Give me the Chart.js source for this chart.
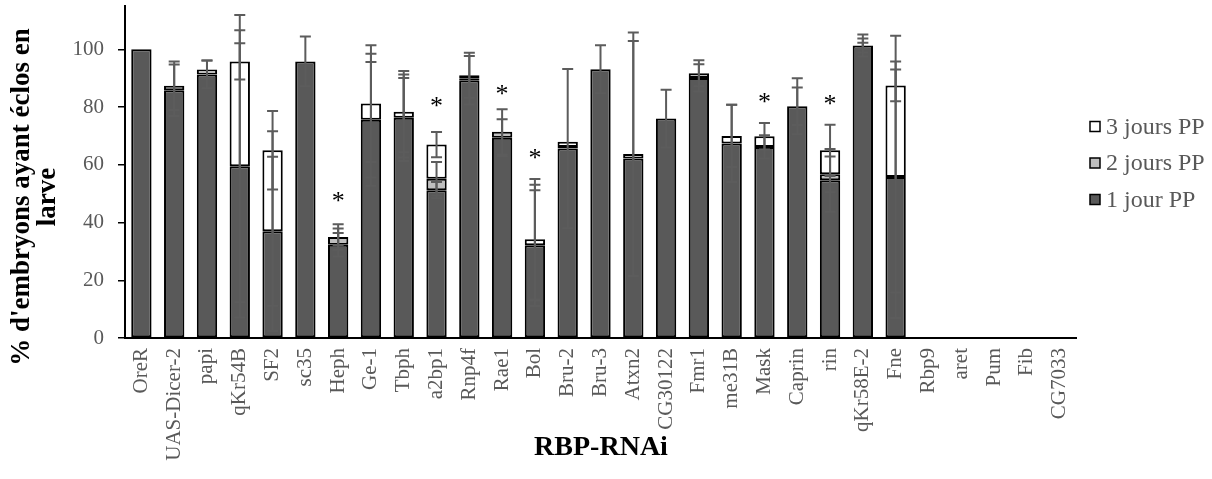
<!DOCTYPE html>
<html>
<head>
<meta charset="utf-8">
<script src="https://cdn.jsdelivr.net/npm/chart.js@4.4.1/dist/chart.umd.min.js"></script>
<style>
  html, body { margin: 0; padding: 0; background: #fff; }
  #wrap { width: 1212px; height: 479px; }
</style>
</head>
<body>
<div id="wrap"><canvas id="hatchChart" width="1212" height="479"></canvas></div>
<script>
const categories = ['OreR', 'UAS-Dicer-2', 'papi', 'qKr54B', 'SF2', 'sc35', 'Heph', 'Ge-1', 'Tbph', 'a2bp1',
  'Rnp4f', 'Rae1', 'Bol', 'Bru-2', 'Bru-3', 'Atxn2', 'CG30122', 'Fmr1', 'me31B', 'Mask',
  'Caprin', 'rin', 'qKr58E-2', 'Fne', 'Rbp9', 'aret', 'Pum', 'Fib', 'CG7033'];

// % hatched, stacked: 1 jour / 2 jours / 3 jours post-ponte
const jour1 = [100, 85.8, 91.3, 59.5, 37.0, 95.8, 32.3, 75.6, 76.3, 51.2,
  89.3, 69.4, 32.1, 65.6, 93.1, 62.2, 76.0, 90.1, 67.4, 66.2,
  80.3, 54.6, 101.3, 55.8, null, null, null, null, null];
const jour2 = [0, 0, 0, 0, 0, 0, 2.7, 0, 0, 4.0,
  0.7, 2.0, 0, 0.6, 0, 0, 0, 1.6, 0, 0,
  0, 2.1, 0, 0, null, null, null, null, null];
const jour3 = [0, 1.6, 1.7, 36.3, 28.0, 0, 0, 5.6, 2.1, 11.8,
  1.0, 0, 2.1, 1.8, 0, 1.5, 0, 0, 2.6, 3.7,
  0, 8.3, 0, 31.7, null, null, null, null, null];

// error bars (+/-) for each series, drawn at the top of its segment
const err1 = [0, 8.9, 4.8, 47.1, 34.6, 8.6, 4.1, 20.0, 13.8, 2.8,
  8.4, 6.4, 19.1, 27.6, 8.3, 40.7, 10.0, 4.7, 13.4, 4.0,
  6.5, 10.9, 1.0, 48.9, null, null, null, null, null];
const err2 = [0, 0, 0, 52.4, 25.8, 0, 2.9, 22.9, 15.0, 5.8,
  0, 7.8, 21.0, 0, 0, 0, 0, 4.5, 0, 0,
  9.7, 6.2, 2.4, 40.0, null, null, null, null, null];
const err3 = [0, 8.4, 3.1, 6.3, 13.6, 0, 4.4, 20.2, 14.1, 4.35,
  7.8, 0, 20.9, 0, 0, 42.1, 0, 0, 10.8, 4.6,
  0, 8.9, 3.8, 5.5, null, null, null, null, null];

// significance stars (height on the y axis)
const stars = [null, null, null, null, null, null, 48.8, null, null, 81.7,
  null, 85.8, 63.9, null, null, null, null, null, null, 83.3,
  null, 82.3, null, null, null, null, null, null, null];

const yTicks = [0, 20, 40, 60, 80, 100];

const seriesNames = ['1 jour PP', '2 jours PP', '3 jours PP'];
const seriesColors = ['#595959', '#bfbfbf', '#ffffff'];

const SERIF = '"Liberation Serif", "Times New Roman", serif';
const GREY = '#595959';

const overlay = {
  id: 'overlay',
  afterDatasetsDraw(chart) {
    const ctx = chart.ctx;
    const xs = chart.scales.x, ys = chart.scales.y;
    const series = [jour1, jour2, jour3];
    const errs = [err1, err2, err3];
    ctx.save();
    ctx.strokeStyle = '#5c5c5c';
    ctx.lineWidth = 2;
    categories.forEach((c, i) => {
      const px = xs.getPixelForValue(i);
      let base = 0;
      series.forEach((s, k) => {
        base += s[i] || 0;
        const e = errs[k][i];
        if (!e) return;
        const top = ys.getPixelForValue(base + e);
        const bot = ys.getPixelForValue(base - e);
        ctx.beginPath();
        ctx.moveTo(px, bot); ctx.lineTo(px, top);
        ctx.moveTo(px - 5.5, top); ctx.lineTo(px + 5.5, top);
        ctx.moveTo(px - 5.5, bot); ctx.lineTo(px + 5.5, bot);
        ctx.stroke();
      });
      if (stars[i] != null) {
        ctx.fillStyle = '#000';
        ctx.font = '26px ' + SERIF;
        ctx.textAlign = 'center';
        ctx.textBaseline = 'alphabetic';
        ctx.fillText('*', px, ys.getPixelForValue(stars[i]) + 12);
      }
    });
    ctx.restore();
  },
  afterDraw(chart) {
    const ctx = chart.ctx;
    ctx.save();
    // axis titles
    ctx.fillStyle = '#000';
    ctx.textAlign = 'center';
    ctx.textBaseline = 'middle';
    ctx.font = 'bold 28px ' + SERIF;
    ctx.fillText('RBP-RNAi', 601, 448);
    ctx.font = 'bold 27px ' + SERIF;
    ctx.save();
    ctx.translate(22, 197);
    ctx.rotate(-Math.PI / 2);
    ctx.fillText("% d'embryons ayant éclos en", 0, 0);
    ctx.restore();
    ctx.save();
    ctx.translate(48, 197);
    ctx.rotate(-Math.PI / 2);
    ctx.fillText('larve', 0, 0);
    ctx.restore();

    // legend (reversed order, like the reference)
    const rows = [2, 1, 0];
    ctx.font = '24px ' + SERIF;
    ctx.textAlign = 'left';
    ctx.textBaseline = 'middle';
    rows.forEach((k, r) => {
      const cy = 126.5 + r * 36.5;
      ctx.fillStyle = seriesColors[k];
      ctx.fillRect(1090, cy - 5, 10, 10);
      ctx.strokeStyle = '#000';
      ctx.lineWidth = 1.5;
      ctx.strokeRect(1090, cy - 5, 10, 10);
      ctx.fillStyle = GREY;
      ctx.fillText(seriesNames[k], 1106, cy + 1);
    });
    ctx.restore();
  }
};

const ctx = document.getElementById('hatchChart').getContext('2d');
new Chart(ctx, {
  type: 'bar',
  data: {
    labels: categories,
    datasets: [jour1, jour2, jour3].map((d, k) => ({
      label: seriesNames[k],
      data: d,
      backgroundColor: seriesColors[k],
      borderColor: '#000',
      borderWidth: 2,
      borderSkipped: false,
      categoryPercentage: 1,
      barPercentage: 0.62
    }))
  },
  options: {
    responsive: false,
    animation: false,
    devicePixelRatio: 1,
    layout: { padding: { left: 0, right: 136, top: 6, bottom: 0 } },
    plugins: {
      legend: { display: false },
      tooltip: { enabled: false }
    },
    scales: {
      x: {
        stacked: true,
        grid: { display: false, drawTicks: false },
        border: { display: true, color: '#000', width: 2 },
        ticks: {
          autoSkip: false,
          minRotation: 90,
          maxRotation: 90,
          padding: 10,
          color: GREY,
          font: { family: SERIF, size: 21 }
        },
        afterFit: s => { s.height = 141; s.paddingLeft = 0; s.paddingRight = 0; }
      },
      y: {
        stacked: true,
        min: 0,
        max: 115,
        afterBuildTicks: s => { s.ticks = yTicks.map(v => ({ value: v })); },
        grid: { drawOnChartArea: false, drawTicks: true, tickLength: 7, color: '#000', lineWidth: 1.5 },
        border: { display: true, color: '#000', width: 2 },
        ticks: {
          padding: 14,
          color: GREY,
          font: { family: SERIF, size: 21 }
        },
        afterFit: s => { s.width = 125; s.paddingTop = 0; s.paddingBottom = 0; }
      }
    }
  },
  plugins: [overlay]
});
</script>
</body>
</html>
